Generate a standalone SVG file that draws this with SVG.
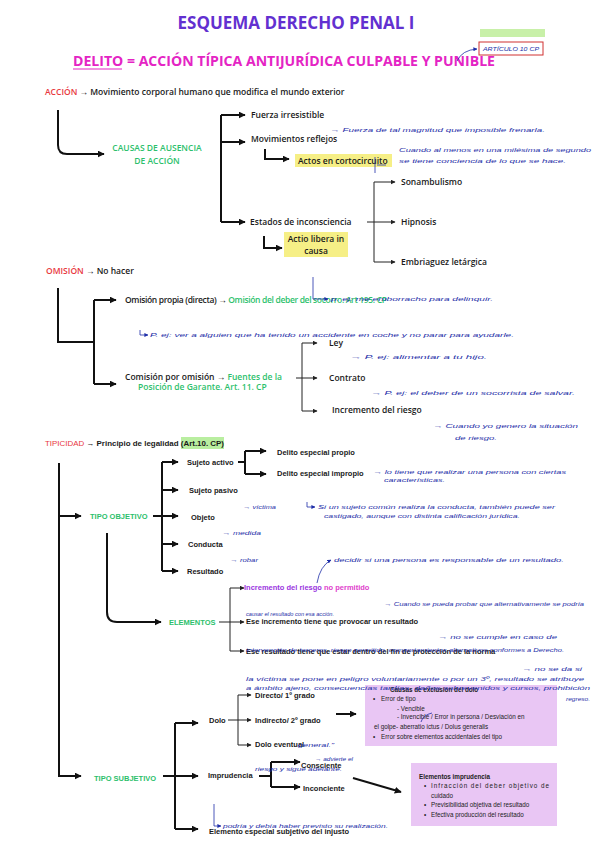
<svg xmlns="http://www.w3.org/2000/svg" width="600" height="848" viewBox="0 0 600 848">
<defs>
<marker id="ah" viewBox="0 0 10 10" refX="9" refY="5" markerWidth="7" markerHeight="7" markerUnits="userSpaceOnUse" orient="auto"><path d="M0,0 L10,5 L0,10 z" fill="#111"/></marker>
<marker id="as" viewBox="0 0 10 10" refX="9" refY="5" markerWidth="5" markerHeight="5" markerUnits="userSpaceOnUse" orient="auto"><path d="M0,0 L10,5 L0,10 z" fill="#222"/></marker>
<marker id="ab" viewBox="0 0 10 10" refX="9" refY="5" markerWidth="4" markerHeight="4" markerUnits="userSpaceOnUse" orient="auto"><path d="M0,0 L10,5 L0,10 z" fill="#1e2ea8"/></marker>
</defs>
<style>
.o{font-family:"Open Sans","Liberation Sans",sans-serif;font-weight:600;font-size:8.5px;fill:#1a1a1a}
.b{font-family:"Liberation Sans",Arial,sans-serif;font-weight:bold;font-size:7.5px;fill:#1a1a1a}
.g{fill:#2dbf6c}
.r{fill:#e8383e}
.hw{font-family:"Liberation Sans",sans-serif;font-style:italic;font-size:6.2px;fill:#1e2ea8}
.bx{font-family:"Liberation Sans",Arial,sans-serif;font-size:6.3px;fill:#222}
.c{fill:none;stroke:#111;stroke-width:2}
.ct{fill:none;stroke:#222;stroke-width:1}
.cb{fill:none;stroke:#1e2ea8;stroke-width:0.8}
</style>
<rect width="600" height="848" fill="#fff"/>

<g id="header">
<text x="296" y="29" text-anchor="middle" font-family="'Open Sans','Liberation Sans',sans-serif" font-weight="bold" font-size="17" fill="#6230d0">ESQUEMA DERECHO PENAL I</text>
<rect x="480" y="29" width="65" height="8" fill="#c8f0a8"/>
<text x="73" y="66" font-family="'Open Sans','Liberation Sans',sans-serif" font-weight="bold" font-size="14.5" fill="#e424c4" textLength="422" lengthAdjust="spacingAndGlyphs">DELITO = ACCIÓN TÍPICA ANTIJURÍDICA CULPABLE Y PUNIBLE</text>
<line x1="73" y1="69" x2="122" y2="69" stroke="#e424c4" stroke-width="1.2"/>
<rect x="479" y="42" width="64" height="13" fill="none" stroke="#d03030" stroke-width="1"/>
<text class="hw" x="483" y="51" font-size="5.5" textLength="56" lengthAdjust="spacingAndGlyphs">ARTÍCULO 10 CP</text>
<path class="cb" d="M457,61 Q462,50 477,49" marker-end="url(#ab)"/>
</g>

<g id="accion">
<text class="o" x="45" y="95"><tspan class="r">ACCIÓN</tspan> → Movimiento corporal humano que modifica el mundo exterior</text>
</g>
<g id="causas">
<text class="o g" x="157" y="151" text-anchor="middle" font-weight="400" font-size="9">CAUSAS DE AUSENCIA</text>
<text class="o g" x="157" y="164" text-anchor="middle" font-weight="400" font-size="9">DE ACCIÓN</text>
</g>
<g id="fuerza"><text class="o" x="251" y="118">Fuerza irresistible</text></g>
<g id="reflejos"><text class="o" x="251" y="142">Movimientos reflejos</text></g>
<g id="cortocircuito"><rect x="295" y="154" width="97" height="13" fill="#f6ef86"/><text class="o" x="298" y="163.5">Actos en cortocircuito</text></g>
<g id="inconsciencia"><text class="o" x="250" y="225">Estados de inconsciencia</text></g>
<g id="actio"><rect x="284" y="232" width="64" height="25" fill="#f6ef86"/><text class="o" x="316" y="242" text-anchor="middle">Actio libera in</text><text class="o" x="316" y="254" text-anchor="middle">causa</text></g>
<g id="sonambulismo"><text class="o" x="401" y="184.5">Sonambulismo</text></g>
<g id="hipnosis"><text class="o" x="401" y="225">Hipnosis</text></g>
<g id="embriaguez"><text class="o" x="401" y="265">Embriaguez letárgica</text></g>

<g id="omision"><text class="o" x="46" y="274"><tspan class="r">OMISIÓN</tspan> → No hacer</text></g>
<g id="omision-propia"><text class="o" x="125" y="303" font-size="8" textLength="262" lengthAdjust="spacing">Omisión propia (directa) → <tspan class="g">Omisión del deber del socorro. Art 195. CP</tspan></text></g>
<g id="comision"><text class="o" x="125" y="380" font-size="8">Comisión por omisión → <tspan class="g">Fuentes de la</tspan></text><text class="o g" x="138" y="390" font-size="8">Posición de Garante. Art. 11. CP</text></g>
<g id="ley"><text class="o" x="329" y="346" font-size="8">Ley</text></g>
<g id="contrato"><text class="o" x="329" y="381" font-size="8">Contrato</text></g>
<g id="incremento"><text class="o" x="332" y="413" font-size="8">Incremento del riesgo</text></g>

<g id="tipicidad"><rect x="181" y="437" width="43" height="12" fill="#b9eea0"/><text class="b" x="45" y="446" font-size="7.6" textLength="179" lengthAdjust="spacingAndGlyphs"><tspan class="r" font-weight="normal">TIPICIDAD</tspan> → Principio de legalidad (Art.10. CP)</text></g>
<g id="tipo-objetivo"><text class="b g" x="90" y="518.7" font-size="7.6">TIPO OBJETIVO</text></g>
<g id="sujeto-activo"><text class="b" x="187" y="464.7">Sujeto activo</text></g>
<g id="sujeto-pasivo"><text class="b" x="189" y="492.7" fill="#1d2b8f">Sujeto pasivo</text></g>
<g id="objeto"><text class="b" x="191" y="519.7">Objeto</text></g>
<g id="conducta"><text class="b" x="188" y="546.7">Conducta</text></g>
<g id="resultado"><text class="b" x="187" y="573.7">Resultado</text></g>
<g id="delito-propio"><text class="b" x="277" y="454.7">Delito especial propio</text></g>
<g id="delito-impropio"><text class="b" x="277" y="475.7">Delito especial impropio</text></g>
<g id="elementos"><text class="b g" x="169" y="625" font-size="7.6">ELEMENTOS</text></g>
<g id="el1"><text class="b" x="244" y="590.2"><tspan fill="#9a34e0">Incremento del riesgo</tspan> <tspan fill="#e040cc">no permitido</tspan></text></g>
<g id="el2"><text class="b" x="246" y="623.7">Ese incremento tiene que provocar un resultado</text></g>
<g id="el3"><text class="b" x="246" y="653.7">Ese resultado tiene que estar dentro del fin de protección de la norma</text></g>
<g id="tipo-subjetivo"><text class="b g" x="94" y="780.7" font-size="7.6">TIPO SUBJETIVO</text></g>
<g id="dolo"><text class="b" x="209" y="722.7">Dolo</text></g>
<g id="imprudencia"><text class="b" x="208" y="777.7">Imprudencia</text></g>
<g id="elemento-especial"><text class="b" x="209" y="833.7">Elemento especial subjetivo del injusto</text></g>
<g id="directo"><text class="b" x="255" y="697.7">Directo/ 1º grado</text></g>
<g id="indirecto"><text class="b" x="255" y="722.7">Indirecto/ 2º grado</text></g>
<g id="eventual"><text class="b" x="255" y="746.7">Dolo eventual</text></g>
<g id="consciente"><text class="b" x="301" y="767.7">Consciente</text></g>
<g id="inconciente"><text class="b" x="303" y="790.7">Inconciente</text></g>

<g id="box-dolo">
<rect x="365" y="685" width="192" height="61" fill="#e9c6f4"/>
<text class="bx" x="390" y="692" font-weight="bold">Causas de exclusión del dolo</text>
<text class="bx" x="373" y="701.3">•</text><text class="bx" x="381" y="701.3">Error de tipo</text>
<text class="bx" x="397" y="710.8">- Vencible</text>
<text class="bx" x="397" y="719.3">- Invencible / Error in persona / Desviación en</text>
<text class="bx" x="374" y="729.3">el golpe- aberratio ictus / Dolus generalis</text>
<text class="bx" x="373" y="739.3">•</text><text class="bx" x="381" y="739.3">Error sobre elementos accidentales del tipo</text>
</g>
<g id="box-imprudencia">
<rect x="411" y="763" width="146" height="63" fill="#e9c6f4"/>
<text class="bx" x="419" y="778.8" font-weight="bold">Elementos imprudencia</text>
<text class="bx" x="424" y="787.8">•</text><text class="bx" x="431" y="787.8" textLength="118" lengthAdjust="spacing">Infracción del deber objetivo de</text>
<text class="bx" x="431" y="797.8">cuidado</text>
<text class="bx" x="424" y="807.3">•</text><text class="bx" x="431" y="807.3">Previsibilidad objetiva del resultado</text>
<text class="bx" x="424" y="817.3">•</text><text class="bx" x="431" y="817.3">Efectiva producción del resultado</text>
</g>

<g id="connectors">
<path class="c" d="M58,110 V145 Q58,154 67,154 H104" marker-end="url(#ah)"/>
<path class="c" d="M221,115 V222"/>
<path class="c" d="M221,115 H245" marker-end="url(#ah)"/>
<path class="c" d="M221,142 H245" marker-end="url(#ah)"/>
<path class="c" d="M221,222 H245" marker-end="url(#ah)"/>
<path class="c" d="M265,149 V159 H289" marker-end="url(#ah)"/>
<path class="ct" d="M367,222 H395" marker-end="url(#as)"/>
<path class="ct" d="M374,182 V262"/>
<path class="ct" d="M374,182 H395" marker-end="url(#as)"/>
<path class="ct" d="M374,262 H395" marker-end="url(#as)"/>
<path class="c" d="M264,236 V248 H282" marker-end="url(#ah)"/>
<path class="c" d="M58,288 V342 H94"/>
<path class="c" d="M94,300 V384"/>
<path class="c" d="M94,300 H116" marker-end="url(#ah)"/>
<path class="c" d="M94,384 H116" marker-end="url(#ah)"/>
<path class="ct" d="M296,378 H317" marker-end="url(#as)"/>
<path class="ct" d="M302,343 V411"/>
<path class="ct" d="M302,343 H317" marker-end="url(#as)"/>
<path class="ct" d="M302,411 H317" marker-end="url(#as)"/>
<path class="c" d="M59,463 V776 H81" marker-end="url(#ah)"/>
<path class="c" d="M59,516 H81" marker-end="url(#ah)"/>
<path class="c" d="M153,516 H178" marker-end="url(#ah)"/>
<path class="c" d="M162,462 V571"/>
<path class="c" d="M162,462 H178" marker-end="url(#ah)"/>
<path class="c" d="M162,490 H178" marker-end="url(#ah)"/>
<path class="c" d="M162,544 H178" marker-end="url(#ah)"/>
<path class="c" d="M162,571 H178" marker-end="url(#ah)"/>
<path class="c" d="M238,462 H245"/>
<path class="c" d="M245,451 V474"/>
<path class="c" d="M245,451 H266" marker-end="url(#ah)"/>
<path class="c" d="M245,474 H266" marker-end="url(#ah)"/>
<path class="c" d="M107,533 V612 Q107,622 117,622 H161" marker-end="url(#ah)"/>
<path class="ct" d="M219,622 H244" marker-end="url(#as)"/>
<path class="ct" d="M230,588 V651"/>
<path class="ct" d="M230,588 H244" marker-end="url(#as)"/>
<path class="ct" d="M230,651 H244" marker-end="url(#as)"/>
<path class="c" d="M163,776 H198" marker-end="url(#ah)"/>
<path class="c" d="M175,723 V829"/>
<path class="c" d="M175,723 H198" marker-end="url(#ah)"/>
<path class="c" d="M175,829 H198" marker-end="url(#ah)"/>
<path class="ct" d="M228,720 H251" marker-end="url(#as)"/>
<path class="ct" d="M238,695 V745"/>
<path class="ct" d="M238,695 H251" marker-end="url(#as)"/>
<path class="ct" d="M238,745 H251" marker-end="url(#as)"/>
<path class="c" d="M336,714 H356" marker-end="url(#ah)"/>
<path class="c" d="M259,776 H271"/>
<path class="c" d="M271,762 V787"/>
<path class="c" d="M271,762 H300" marker-end="url(#ah)"/>
<path class="c" d="M271,787 H300" marker-end="url(#ah)"/>
<path class="c" d="M353,778 L401,792" marker-end="url(#ah)"/>
</g>

<g id="annotations">
<text class="hw" x="330" y="131.8" textLength="215" lengthAdjust="spacingAndGlyphs">→ Fuerza de tal magnitud que imposible frenarla.</text>
<text class="hw" x="399" y="152.3" textLength="192" lengthAdjust="spacingAndGlyphs">Cuando al menos en una milésima de segundo</text>
<text class="hw" x="399" y="163.3" textLength="167" lengthAdjust="spacingAndGlyphs">se tiene conciencia de lo que se hace.</text>
<path class="cb" d="M375,157 V173 M377,165 H386"/>
<path class="cb" d="M313,277 V299 H328" marker-end="url(#ab)"/>
<text class="hw" x="331" y="301.3" textLength="162" lengthAdjust="spacingAndGlyphs">p. ej: me emborracho para delinquir.</text>
<path class="cb" d="M140,330 V335 H148" marker-end="url(#ab)"/>
<text class="hw" x="150" y="337.3" textLength="364" lengthAdjust="spacingAndGlyphs">P. ej: ver a alguien que ha tenido un accidente en coche y no parar para ayudarle.</text>
<text class="hw" x="350" y="359.3" textLength="137" lengthAdjust="spacingAndGlyphs">→ P. ej: alimentar a tu hijo.</text>
<text class="hw" x="371" y="395.3" textLength="204" lengthAdjust="spacingAndGlyphs">→ P. ej: el deber de un socorrista de salvar.</text>
<text class="hw" x="433" y="428.3" textLength="145" lengthAdjust="spacingAndGlyphs">→ Cuando yo genero la situación</text>
<text class="hw" x="455" y="440.3" textLength="42" lengthAdjust="spacingAndGlyphs">de riesgo.</text>
<text class="hw" x="373" y="474.3" textLength="193" lengthAdjust="spacingAndGlyphs">→ lo tiene que realizar una persona con ciertas</text>
<text class="hw" x="384" y="482.3" textLength="61" lengthAdjust="spacingAndGlyphs">características.</text>
<text class="hw" x="243" y="509.3" textLength="33" lengthAdjust="spacingAndGlyphs">→ víctima</text>
<path class="cb" d="M307,502 V507 H315" marker-end="url(#ab)"/>
<text class="hw" x="318" y="509.3" textLength="237" lengthAdjust="spacingAndGlyphs">Si un sujeto común realiza la conducta, también puede ser</text>
<text class="hw" x="324" y="518.3" textLength="196" lengthAdjust="spacingAndGlyphs">castigado, aunque con distinta calificación jurídica.</text>
<text class="hw" x="222" y="535.3" textLength="39" lengthAdjust="spacingAndGlyphs">→ medida</text>
<text class="hw" x="230" y="562.3" textLength="28" lengthAdjust="spacingAndGlyphs">→ robar</text>
<path class="cb" d="M317,583 Q320,566 331,560" marker-end="url(#ab)"/>
<text class="hw" x="334" y="562.3" textLength="230" lengthAdjust="spacingAndGlyphs">decidir si una persona es responsable de un resultado.</text>
<text class="hw" x="384" y="605.8" textLength="200" lengthAdjust="spacingAndGlyphs">→ Cuando se pueda probar que alternativamente se podría</text>
<text class="hw" x="246" y="615.8" textLength="88" lengthAdjust="spacingAndGlyphs">causar el resultado con esa acción.</text>
<text class="hw" x="438" y="639.3" textLength="119" lengthAdjust="spacingAndGlyphs">→ no se cumple en caso de</text>
<text class="hw" x="246" y="651.8" textLength="318" lengthAdjust="spacingAndGlyphs">intervención de terceros, riesgo permitido, comportamientos alternativos conformes a Derecho.</text>
<text class="hw" x="522" y="671.3" textLength="60" lengthAdjust="spacingAndGlyphs">→ no se da si</text>
<text class="hw" x="246" y="680.8" textLength="338" lengthAdjust="spacingAndGlyphs">la víctima se pone en peligro voluntariamente o por un 3º, resultado se atribuye</text>
<text class="hw" x="246" y="690.3" textLength="344" lengthAdjust="spacingAndGlyphs">a ámbito ajeno, consecuencias tardías, daños sobrevenidos y cursos, prohibición</text>
<text class="hw" x="566" y="700.8" textLength="24" lengthAdjust="spacingAndGlyphs">regreso.</text>
<path class="cb" d="M421,722 Q423,715 432,713"/>
<text class="hw" x="298" y="747.3" textLength="36" lengthAdjust="spacingAndGlyphs">general.”</text>
<text class="hw" x="315" y="761.3" textLength="38" lengthAdjust="spacingAndGlyphs">→ advierte el</text>
<text class="hw" x="255" y="771.3" textLength="87" lengthAdjust="spacingAndGlyphs">riesgo y sigue adelante.</text>
<path class="cb" d="M214,804 V826 H221" marker-end="url(#ab)"/>
<text class="hw" x="223" y="828.3" textLength="165" lengthAdjust="spacingAndGlyphs">podría y debía haber previsto su realización.</text>
</g>
</svg>
